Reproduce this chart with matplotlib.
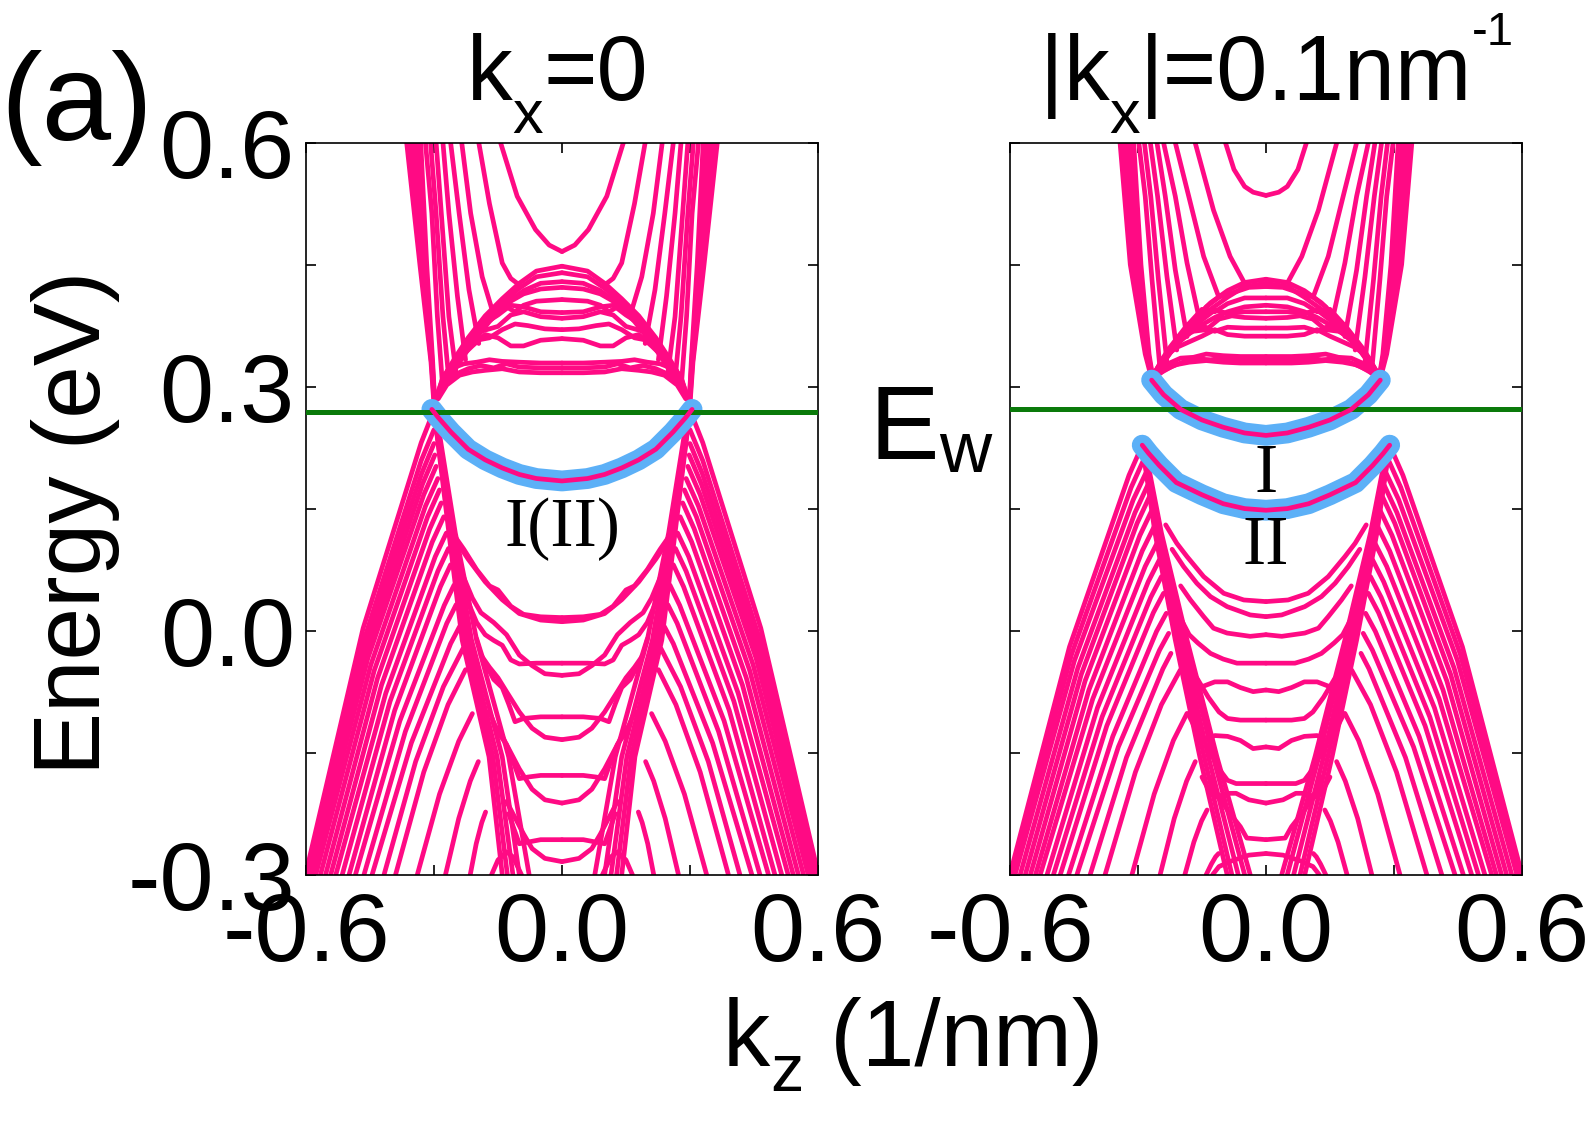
import numpy as np
import matplotlib
matplotlib.use('Agg')
from matplotlib import pyplot as plt

# ---- data (kz >= 0 half, each panel is mirror symmetric) ----
# every strand: ([kz in 1/nm], [E in eV])

# kx = 0 panel
left_cond_u = [([0, .03, .062, .105, .144], [.466, .474, .493, .534, .60])]
left_domes = [
    ([0, .06, .10, .14, .18, .22, .25, .28, .30], [.448, .442, .427, .408, .387, .360, .336, .309, .278]),
    ([0, .06, .10, .14, .18, .22, .25, .28, .298], [.440, .435, .421, .402, .380, .353, .329, .303, .282]),
    ([0, .05, .09, .13, .17, .21, .245, .275, .296], [.429, .427, .418, .402, .380, .354, .326, .300, .283]),
    ([0, .05, .09, .12, .15, .19, .23, .26, .29], [.422, .420, .414, .405, .398, .372, .345, .322, .290]),
    ([0, .06, .09, .11, .13, .16, .20, .24, .27, .29], [.407, .405, .400, .392, .398, .392, .368, .342, .315, .288]),
    ([0, .05, .09, .12, .15, .18, .22, .26, .29], [.391, .392, .398, .400, .388, .378, .355, .325, .290]),
    ([0, .05, .09, .12, .15, .19, .23, .27, .29], [.384, .386, .392, .388, .374, .368, .350, .318, .290]),
    ([0, .04, .08, .11, .14, .17, .20, .23, .26, .29], [.370, .371, .375, .377, .370, .360, .357, .343, .325, .290]),
    ([0, .05, .09, .12, .15, .18, .21, .24, .27, .29], [.359, .357, .350, .350, .360, .364, .350, .335, .318, .290]),
    ([0, .05, .10, .14, .17, .20, .23, .26, .28, .295], [.329, .329, .330, .331, .333, .330, .328, .322, .310, .285]),
    ([0, .05, .10, .13, .16, .19, .22, .25, .28, .295], [.323, .323, .324, .328, .323, .326, .322, .315, .302, .283]),
    ([0, .05, .10, .14, .18, .21, .24, .27, .29], [.317, .317, .318, .322, .320, .318, .314, .302, .285]),
]
left_rise = [
    ([.10, .12, .14, .17, .195], [.425, .433, .452, .525, .60]),
    ([.159, .187, .214, .235], [.386, .435, .513, .60]),
    ([.195, .218, .241, .261], [.353, .419, .513, .60]),
    ([.226, .245, .265, .279], [.333, .411, .513, .60]),
    ([.249, .265, .280, .295], [.320, .386, .493, .60]),
    ([.265, .279, .295, .308], [.308, .386, .513, .60]),
    ([.279, .292, .305, .320], [.296, .386, .513, .60]),
    ([.298, .303, .317, .331], [.278, .33, .45, .60]),
    ([.298, .304, .321, .340], [.278, .33, .45, .60]),
    ([.298, .305, .325, .348], [.278, .33, .45, .60]),
    ([.299, .306, .329, .356], [.278, .33, .45, .60]),
    ([.300, .307, .333, .364], [.278, .33, .45, .60]),
]
left_surface = ([0, .06, .10, .14, .18, .22, .26, .29, .305],
                [.184, .187, .192, .200, .210, .223, .244, .262, .272])
left_lambda = [
    ([.300, .330, .466, .601], [.271, .231, .003, -.30]),
    ([.300, .330, .463, .597], [.247, .209, -.010, -.30]),
    ([.300, .329, .462, .594], [.230, .193, -.019, -.30]),
    ([.298, .327, .458, .589], [.216, .180, -.027, -.30]),
    ([.295, .324, .455, .585], [.202, .167, -.034, -.30]),
    ([.291, .320, .448, .577], [.187, .153, -.042, -.30]),
    ([.287, .315, .440, .566], [.173, .140, -.049, -.30]),
    ([.283, .310, .432, .554], [.157, .125, -.058, -.30]),
    ([.277, .304, .423, .542], [.140, .109, -.067, -.30]),
    ([.271, .297, .413, .530], [.120, .091, -.077, -.30]),
    ([.266, .291, .403, .515], [.101, .073, -.087, -.30]),
    ([.261, .285, .392, .499], [.081, .054, -.098, -.30]),
    ([.253, .276, .380, .484], [.056, .031, -.111, -.30]),
    ([.248, .270, .367, .464], [.032, .009, -.124, -.30]),
    ([.240, .261, .353, .445], [.005, -.016, -.138, -.30]),
    ([.232, .278, .343, .417], [-.022, -.069, -.161, -.30]),
    ([.226, .267, .324, .390], [-.048, -.091, -.174, -.30]),
    ([.210, .242, .287, .339], [-.102, -.136, -.201, -.30]),
    ([.196, .215, .242, .273], [-.161, -.185, -.231, -.30]),
    ([.179, .188, .201, .215], [-.223, -.236, -.262, -.30]),
    ([.095, .115, .13, .15, .165], [-.30, -.278, -.272, -.282, -.30]),
]
left_steep_e = [.271, .12, -.0115, -.155, -.30]
left_steep_kz = [
    [.300, .265, .234, .171, .140],
    [.300, .262, .228, .162, .128],
    [.300, .258, .220, .152, .115],
    [.298, .255, .212, .140, .100],
    [.296, .250, .200, .125, .077],
]
left_inner = [
    ([0, .05, .10, .14, .18, .22, .25, .262], [.011, .013, .021, .038, .060, .088, .112, .12]),
    ([0, .05, .09, .12, .15, .17, .20, .23, .25], [.016, .017, .020, .030, .050, .055, .075, .100, .115]),
    ([0, .06, .10, .12, .14, .16, .18, .20, .22], [-.040, -.040, -.041, -.036, -.018, -.012, -.005, .010, .035]),
    ([0, .04, .07, .10, .13, .16, .19, .21, .23], [-.055, -.053, -.043, -.030, -.005, .010, .022, .040, .065]),
    ([0, .05, .09, .11, .125, .14, .16, .185, .20], [-.106, -.106, -.108, -.112, -.090, -.070, -.060, -.035, -.010]),
    ([0, .04, .07, .10, .13, .15, .17, .19], [-.134, -.131, -.120, -.100, -.075, -.058, -.045, -.030]),
    ([0, .05, .08, .10, .115, .13, .15, .17], [-.178, -.178, -.180, -.182, -.160, -.140, -.125, -.100]),
    ([0, .04, .07, .10, .12, .14, .16], [-.212, -.208, -.195, -.170, -.150, -.130, -.115]),
    ([0, .05, .08, .10, .115, .125], [-.257, -.257, -.260, -.262, -.240, -.225]),
    ([0, .04, .07, .09, .11, .13], [-.284, -.280, -.268, -.250, -.230, -.210]),
]
left_ew = 0.269

# |kx| = 0.1 nm^-1 panel
right_cond_u = [([0, .03, .05, .075, .095], [.535, .539, .546, .567, .60])]
right_domes = [
    ([0, .05, .09, .13, .17, .21, .24, .267], [.432, .428, .418, .403, .382, .357, .333, .310]),
    ([0, .05, .09, .13, .17, .21, .24, .265], [.427, .423, .410, .395, .375, .352, .330, .312]),
    ([0, .04, .08, .11, .14, .18, .22, .25], [.423, .422, .415, .410, .398, .370, .345, .322]),
    ([0, .05, .09, .12, .15, .19, .23, .26], [.409, .409, .402, .392, .395, .372, .345, .318]),
    ([0, .05, .09, .12, .15, .18, .22, .26], [.400, .398, .392, .385, .376, .370, .350, .318]),
    ([0, .05, .09, .12, .15, .18, .21, .24, .262], [.392, .392, .390, .394, .382, .365, .352, .334, .315]),
    ([0, .05, .08, .11, .14, .17, .20, .23, .26], [.384, .385, .387, .383, .370, .368, .360, .340, .316]),
    ([0, .05, .09, .12, .15, .18, .21, .24, .262], [.372, .372, .373, .368, .375, .367, .352, .336, .315]),
    ([0, .05, .09, .12, .15, .18, .21, .24, .262], [.362, .362, .364, .370, .362, .355, .348, .335, .315]),
    ([0, .06, .10, .14, .17, .20, .23, .26], [.337, .337, .338, .340, .336, .335, .328, .315]),
    ([0, .06, .10, .13, .16, .19, .22, .26], [.333, .333, .335, .333, .334, .331, .325, .313]),
    ([0, .06, .10, .14, .18, .21, .24, .26], [.329, .329, .330, .332, .330, .327, .320, .311]),
]
right_rise = [
    ([.052, .084, .123, .166], [.429, .46, .517, .60]),
    ([.111, .146, .181, .2125], [.4107, .46, .534, .60]),
    ([.154, .185, .2125, .24], [.378, .452, .534, .60]),
    ([.185, .2125, .236, .2555], [.3615, .4434, .534, .60]),
    ([.209, .232, .254, .271], [.345, .435, .534, .60]),
    ([.232, .252, .27, .285], [.329, .431, .534, .60]),
    ([.248, .267, .283, .298], [.32, .431, .534, .60]),
    ([.265, .274, .293, .31], [.31, .34, .45, .60]),
    ([.265, .276, .300, .318], [.31, .34, .45, .60]),
    ([.266, .278, .306, .326], [.31, .34, .45, .60]),
    ([.267, .280, .312, .334], [.31, .34, .45, .60]),
    ([.268, .283, .318, .342], [.31, .34, .45, .60]),
]
right_surface_up = ([0, .05, .10, .15, .20, .24, .268],
                    [.240, .243, .250, .259, .272, .290, .308])
right_surface_low = ([0, .05, .10, .15, .21, .25, .275, .29],
                     [.148, .150, .156, .167, .182, .203, .218, .228])
right_lambda = [
    ([.290, .321, .4605, .600], [.228, .191, -.020, -.30]),
    ([.285, .316, .4555, .595], [.212, .176, -.029, -.30]),
    ([.280, .311, .449, .588], [.1955, .161, -.037, -.30]),
    ([.277, .307, .441, .576], [.179, .145, -.046, -.30]),
    ([.273, .302, .433, .564], [.1647, .132, -.054, -.30]),
    ([.267, .2955, .424, .552], [.1484, .117, -.062, -.30]),
    ([.262, .290, .415, .540], [.1279, .098, -.073, -.30]),
    ([.2555, .283, .406, .529], [.1074, .079, -.084, -.30]),
    ([.250, .276, .395, .513], [.0869, .060, -.095, -.30]),
    ([.245, .270, .384, .498], [.0664, .041, -.106, -.30]),
    ([.240, .264, .373, .482], [.0459, .022, -.117, -.30]),
    ([.2336, .2565, .359, .4625], [.0213, -.001, -.130, -.30]),
    ([.228, .2495, .346, .443], [-.0033, -.024, -.143, -.30]),
    ([.2227, .2416, .327, .412], [-.0279, -.047, -.156, -.30]),
    ([.2008, .245, .306, .377], [-.0484, -.091, -.174, -.30]),
    ([.185, .217, .262, .314], [-.1017, -.135, -.201, -.30]),
    ([.1656, .186, .215, .248], [-.161, -.185, -.231, -.30]),
    ([.138, .151, .169, .19], [-.2205, -.234, -.260, -.30]),
    ([.111, .118, .128, .14], [-.274, -.278, -.287, -.30]),
]
right_steep_e = [.228, .12, -.0115, -.155, -.30]
right_steep_kz = [
    [.29, .26, .2125, .155, .091],
    [.29, .257, .205, .145, .080],
    [.289, .253, .198, .135, .065],
    [.287, .250, .190, .124, .050],
    [.285, .245, .185, .115, .037],
]
right_inner = [
    ([0, .052, .099, .146, .185, .209, .235], [.0357, .0377, .0459, .0664, .091, .1074, .13]),
    ([0, .037, .091, .13, .162, .193, .22], [.0172, .0193, .0295, .0418, .0582, .0787, .10]),
    ([0, .037, .091, .123, .146, .177, .20], [-.005, -.007, -.003, .003, .0172, .0377, .055]),
    ([0, .068, .10, .13, .16, .18, .20], [-.040, -.040, -.035, -.028, -.015, -.005, .015]),
    ([0, .03, .06, .09, .12, .15, .17, .19], [-.073, -.075, -.070, -.063, -.063, -.069, -.063, -.045]),
    ([0, .06, .09, .11, .135, .16, .18], [-.110, -.110, -.108, -.100, -.082, -.060, -.045]),
    ([0, .03, .06, .09, .12, .145, .16, .18], [-.143, -.145, -.135, -.130, -.129, -.136, -.126, -.105]),
    ([0, .07, .09, .11, .13, .15], [-.188, -.188, -.184, -.170, -.150, -.130]),
    ([0, .04, .07, .09, .12, .135, .15], [-.212, -.208, -.200, -.200, -.205, -.195, -.180]),
    ([0, .045, .06, .09, .115, .13], [-.257, -.255, -.241, -.221, -.200, -.180]),
    ([0, .04, .08, .11, .125], [-.274, -.276, -.283, -.290, -.300]),
]
right_ew = 0.272

PINK = '#ff0a84'
BLUE = '#5cb0f7'
GREEN = '#0a7a0a'
LW = 3.4
W, H = 1592, 1128

plt.rcParams['font.family'] = ['Liberation Sans', 'DejaVu Sans']
SERIF = ['Liberation Serif', 'DejaVu Serif']


def draw(ax, strands):
    # each strand is drawn for kz >= 0 and mirrored to kz <= 0
    for kz, e in strands:
        kz = np.asarray(kz, dtype=float)
        for sgn in (1, -1):
            ax.plot(sgn * kz, e, color=PINK, lw=LW, solid_capstyle='round',
                    solid_joinstyle='round', zorder=2)


def draw_surface(ax, band):
    kz = np.asarray(band[0], dtype=float)
    e = np.asarray(band[1], dtype=float)
    kz_full = np.concatenate([-kz[::-1], kz[1:]])
    e_full = np.concatenate([e[::-1], e[1:]])
    ax.plot(kz_full, e_full, color=BLUE, lw=15, solid_capstyle='round', zorder=3)
    ax.plot(kz_full, e_full, color=PINK, lw=LW, solid_capstyle='round', zorder=5)


def style(ax, ylabels):
    ax.set_xlim(-0.6, 0.6)
    ax.set_ylim(-0.3, 0.6)
    ax.set_xticks([-0.6, -0.3, 0, 0.3, 0.6])
    ax.set_xticklabels(['-0.6', '', '0.0', '', '0.6'])
    ax.set_yticks([-0.3, -0.15, 0, 0.15, 0.3, 0.45, 0.6])
    if ylabels:
        ax.set_yticklabels(['-0.3', '', '0.0', '', '0.3', '', '0.6'])
    else:
        ax.set_yticklabels([''] * 7)
    ax.tick_params(direction='in', length=7, width=1.2, top=True, right=True,
                   labelsize=70)
    ax.tick_params(axis='x', pad=12)
    ax.tick_params(axis='y', pad=8)
    for sp in ax.spines.values():
        sp.set_linewidth(1.2)


fig = plt.figure(figsize=(15.92, 11.28), dpi=100)
renderer = fig.canvas.get_renderer()


def chain(x0, base, parts):
    # text pieces side by side; dy > 0 moves a piece down (subscript), in pixels
    x = x0
    for s, size, dy in parts:
        t = fig.text(x / W, (H - base - dy) / H, s, fontsize=size,
                     ha='left', va='baseline')
        x = t.get_window_extent(renderer).x1


ax1 = fig.add_axes([0.1922, 0.2246, 0.3216, 0.649])
ax2 = fig.add_axes([0.6344, 0.2246, 0.3216, 0.649])

# left panel
draw(ax1, left_cond_u)
draw(ax1, left_domes)
draw(ax1, left_rise)
draw(ax1, left_lambda)
draw(ax1, [(k, left_steep_e) for k in left_steep_kz])
draw(ax1, left_inner)
draw_surface(ax1, left_surface)
ax1.axhline(left_ew, color=GREEN, lw=3.6, zorder=4)
ax1.text(0, 0.124, 'I(II)', family=SERIF, fontsize=50, ha='center', va='center', zorder=6)
style(ax1, True)

# right panel
draw(ax2, right_cond_u)
draw(ax2, right_domes)
draw(ax2, right_rise)
draw(ax2, right_lambda)
draw(ax2, [(k, right_steep_e) for k in right_steep_kz])
draw(ax2, right_inner)
draw_surface(ax2, right_surface_up)
draw_surface(ax2, right_surface_low)
ax2.axhline(right_ew, color=GREEN, lw=3.6, zorder=4)
ax2.text(0, 0.191, 'I', family=SERIF, fontsize=50, ha='center', va='center', zorder=6)
ax2.text(0, 0.103, 'II', family=SERIF, fontsize=50, ha='center', va='center', zorder=6)
style(ax2, False)

# titles and labels
chain(467, 100, [('k', 66, 0), ('x', 44, 33), ('=0', 66, 0)])
chain(1040, 100, [('|', 66, 0), ('k', 66, 0), ('x', 44, 33), ('|=0.1nm', 66, 0),
                  ('-1', 34, -55)])
chain(870, 459, [('E', 75, 0), ('w', 52, 13)])
chain(723, 1066, [('k', 68, 0), ('z', 48, 25), (' (1/nm)', 68, 0)])
fig.text(0, 1 - 140 / H, '(a)', fontsize=90, ha='left', va='baseline')
fig.text(76 / W, 1 - 523 / H, 'Energy (eV)', fontsize=68, rotation=90,
         ha='center', va='center')

fig.savefig('out.png', dpi=100)
